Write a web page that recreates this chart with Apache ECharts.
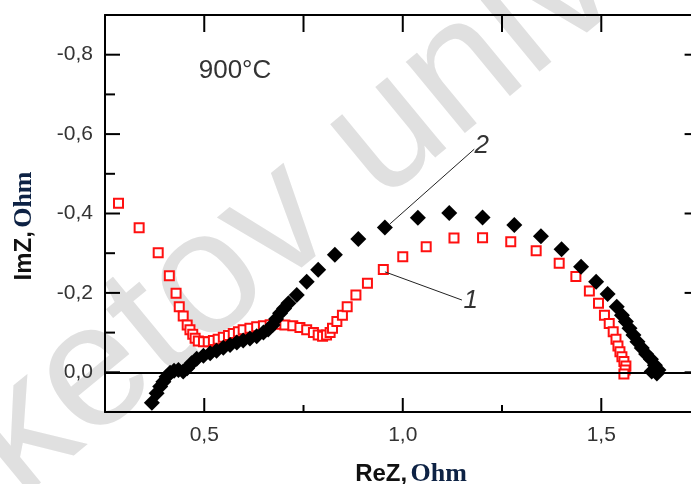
<!DOCTYPE html>
<html>
<head>
<meta charset="utf-8">
<script src="https://cdn.jsdelivr.net/npm/echarts@6/dist/echarts.min.js"></script>
<style>
  html, body { margin: 0; padding: 0; background: #fff; }
  #chart { width: 691px; height: 484px; }
</style>
</head>
<body>
<div id="chart"></div>
<script>
// Impedance spectra (Nyquist plot) at 900 °C: ReZ vs ImZ, Ohm

// Curve 1 (open red squares)
const reZ1 = [0.284, 0.336, 0.384, 0.412, 0.429, 0.437, 0.447, 0.457, 0.464, 0.471, 0.477, 0.485,
  0.498, 0.510, 0.523, 0.535, 0.548, 0.561, 0.573, 0.586, 0.598, 0.615, 0.632, 0.649, 0.666,
  0.683, 0.703, 0.723, 0.741, 0.758, 0.775, 0.787, 0.798, 0.808, 0.817, 0.823, 0.834, 0.848,
  0.860, 0.882, 0.911, 0.951, 1.000, 1.059, 1.129, 1.201, 1.272, 1.336, 1.394, 1.436, 1.470,
  1.493, 1.508, 1.520, 1.530, 1.537, 1.542, 1.547, 1.552, 1.557, 1.562, 1.560, 1.557];
const imZ1 = [-0.426, -0.364, -0.301, -0.243, -0.199, -0.165, -0.142, -0.119, -0.107, -0.096, -0.086, -0.079,
  -0.077, -0.077, -0.080, -0.083, -0.088, -0.093, -0.098, -0.102, -0.107, -0.111, -0.115, -0.117, -0.120,
  -0.121, -0.119, -0.117, -0.113, -0.107, -0.100, -0.094, -0.091, -0.094, -0.100, -0.111, -0.128, -0.144,
  -0.165, -0.195, -0.224, -0.259, -0.291, -0.316, -0.338, -0.339, -0.329, -0.306, -0.275, -0.241, -0.205,
  -0.174, -0.144, -0.123, -0.102, -0.083, -0.066, -0.052, -0.039, -0.027, -0.016, -0.006, 0.004];

// Curve 2 (filled black diamonds)
const reZ2 = [0.368, 0.380, 0.389, 0.397, 0.405, 0.414, 0.424, 0.435, 0.447, 0.457, 0.468, 0.481,
  0.498, 0.515, 0.531, 0.548, 0.565, 0.582, 0.598, 0.615, 0.632, 0.649, 0.661, 0.672, 0.681,
  0.691, 0.701, 0.712, 0.733, 0.758, 0.787, 0.829, 0.888, 0.955, 1.038, 1.117, 1.201, 1.281,
  1.348, 1.400, 1.449, 1.487, 1.516, 1.539, 1.552, 1.562, 1.571, 1.581, 1.591, 1.602, 1.613,
  1.625, 1.635, 1.644, 1.640, 1.627];
const imZ2 = [0.077, 0.053, 0.036, 0.024, 0.011, 0.001, -0.004, -0.006, -0.002, -0.010, -0.023, -0.034,
  -0.042, -0.048, -0.054, -0.062, -0.069, -0.075, -0.080, -0.085, -0.091, -0.100, -0.108, -0.119, -0.134,
  -0.149, -0.161, -0.174, -0.195, -0.228, -0.258, -0.296, -0.336, -0.365, -0.389, -0.401, -0.390, -0.371,
  -0.343, -0.310, -0.266, -0.228, -0.197, -0.165, -0.144, -0.128, -0.111, -0.094, -0.077, -0.061, -0.046,
  -0.033, -0.018, -0.006, 0.003, -0.002];

// Axis ranges and tick values
const xRange = [0.25, 1.73];
const yRange = [-0.9, 0.1];
const xMajorTicks = [0.5, 1.0, 1.5];
const xMinorTicks = [0.75, 1.25];
const xTopTicks = [0.5, 0.75, 1.0, 1.25, 1.5];
const yMajorTicks = [-0.8, -0.6, -0.4, -0.2, 0.0];
const yMinorTicks = [-0.7, -0.5, -0.3, -0.1];

// Curve labels and their leader lines (ReZ, ImZ)
const curveLabels = ['1', '2'];
const labelAt = [[1.171, -0.180], [1.199, -0.571]];
const leaderFrom = [[0.955, -0.253], [0.968, -0.374]];
const leaderTo = [[1.149, -0.182], [1.180, -0.562]];

const toPairs = (xs, ys) => xs.map((x, i) => [x, ys[i]]);
const fmt = v => v.toFixed(1).replace('.', ',');

const SANS = '"Liberation Sans", Arial, sans-serif';
const SERIF = '"Liberation Serif", "Times New Roman", serif';
const labelStyle = { fontFamily: SANS, fontSize: 21, color: '#333' };
const frameLine = { show: true, onZero: false, lineStyle: { color: '#000', width: 2 } };

// Tick marks on the frame: side code -> inward length in px
const BOTTOM_MAJOR = 0, BOTTOM_MINOR = 1, TOP = 2, LEFT_MAJOR = 3, LEFT_MINOR = 4, RIGHT = 5;
const tickLen = [14, 7, 17, 15, 10, 8];
const tickItems = [].concat(
  xMajorTicks.map(v => [v, BOTTOM_MAJOR]),
  xMinorTicks.map(v => [v, BOTTOM_MINOR]),
  xTopTicks.map(v => [v, TOP]),
  yMajorTicks.map(v => [v, LEFT_MAJOR]),
  yMinorTicks.map(v => [v, LEFT_MINOR]),
  yMajorTicks.map(v => [v, RIGHT])
);

function renderTick(params, api) {
  const v = api.value(0);
  const side = api.value(1);
  const len = tickLen[side];
  let p, x2, y2;
  if (side === BOTTOM_MAJOR || side === BOTTOM_MINOR) {
    p = api.coord([v, yRange[1]]); x2 = p[0]; y2 = p[1] - len;
  } else if (side === TOP) {
    p = api.coord([v, yRange[0]]); x2 = p[0]; y2 = p[1] + len;
  } else if (side === RIGHT) {
    p = api.coord([xRange[1], v]); x2 = p[0] - len; y2 = p[1];
  } else {
    p = api.coord([xRange[0], v]); x2 = p[0] + len; y2 = p[1];
  }
  return {
    type: 'line',
    shape: { x1: p[0], y1: p[1], x2: x2, y2: y2 },
    style: { stroke: '#000', lineWidth: 2 }
  };
}

const chart = echarts.init(document.getElementById('chart'), null, { renderer: 'canvas' });

chart.setOption({
  animation: false,
  backgroundColor: '#fff',
  grid: { left: 105, top: 15, width: 587.6, height: 397, containLabel: false, outerBoundsMode: 'none' },
  xAxis: [
    {
      type: 'value', position: 'bottom', min: xRange[0], max: xRange[1], interval: 0.25,
      axisLine: frameLine,
      axisTick: { show: false },
      axisLabel: Object.assign({ customValues: xMajorTicks, formatter: fmt, margin: 13 }, labelStyle),
      splitLine: { show: false }
    },
    {
      type: 'value', position: 'top', min: xRange[0], max: xRange[1], interval: 0.25,
      axisLine: frameLine, axisTick: { show: false },
      axisLabel: { show: false }, splitLine: { show: false }
    }
  ],
  yAxis: [
    {
      type: 'value', position: 'left', inverse: true, min: yRange[0], max: yRange[1], interval: 0.1,
      axisLine: frameLine,
      axisTick: { show: false },
      axisLabel: Object.assign({ customValues: yMajorTicks, formatter: fmt, margin: 12 }, labelStyle),
      splitLine: { show: false }
    },
    {
      type: 'value', position: 'right', inverse: true, min: yRange[0], max: yRange[1], interval: 0.1,
      axisLine: frameLine, axisTick: { show: false },
      axisLabel: { show: false }, splitLine: { show: false }
    }
  ],
  graphic: [
    {
      type: 'text', z: -10, x: 45, y: 530, rotation: 39.5 * Math.PI / 180,
      style: { text: 'ketov univ', font: '175px ' + SANS, fill: '#e0e0e0', textAlign: 'left', textVerticalAlign: 'bottom' }
    },
    {
      type: 'text', x: 235, y: 71,
      style: { text: '900°C', font: '26px ' + SANS, fill: '#333', textAlign: 'center', textVerticalAlign: 'middle' }
    },
    {
      type: 'text', x: 411, y: 474,
      style: {
        text: '{a|ReZ,} {b|Ohm}', textAlign: 'center', textVerticalAlign: 'middle',
        rich: {
          a: { font: 'bold 24px ' + SANS, fill: '#111' },
          b: { font: 'bold 26px ' + SERIF, fill: '#0d2244' }
        }
      }
    },
    {
      type: 'text', x: 24, y: 226, rotation: Math.PI / 2,
      style: {
        text: '{a|ImZ,} {b|Ohm}', textAlign: 'center', textVerticalAlign: 'middle',
        rich: {
          a: { font: 'bold 24px ' + SANS, fill: '#111' },
          b: { font: 'bold 26px ' + SERIF, fill: '#0d2244' }
        }
      }
    }
  ],
  series: [
    {
      name: 'ticks', type: 'custom', coordinateSystem: 'cartesian2d',
      data: tickItems, renderItem: renderTick, silent: true, clip: false, z: 5
    },
    {
      name: '1', type: 'scatter', data: toPairs(reZ1, imZ1),
      symbol: 'emptyRect', symbolSize: 9,
      itemStyle: { color: '#ff1010', borderColor: '#ff1010', borderWidth: 1.7, opacity: 1 },
      emphasis: { disabled: true }, z: 3,
      markLine: {
        silent: true, symbol: ['none', 'none'], animation: false,
        label: { show: false },
        lineStyle: { color: '#000', width: 2, type: 'solid' },
        data: [{ yAxis: 0 }]
      }
    },
    {
      name: '2', type: 'scatter', data: toPairs(reZ2, imZ2),
      symbol: 'diamond', symbolSize: 16,
      itemStyle: { color: '#000', opacity: 1 },
      emphasis: { disabled: true }, z: 4,
      markLine: {
        silent: true, symbol: ['none', 'none'], animation: false,
        label: { show: false },
        lineStyle: { color: '#222', width: 1, type: 'solid' },
        data: leaderFrom.map((p, i) => [{ coord: p }, { coord: leaderTo[i] }])
      },
      markPoint: {
        silent: true, animation: false,
        data: curveLabels.map((t, i) => ({
          coord: labelAt[i], symbol: 'circle', symbolSize: 1,
          itemStyle: { color: 'rgba(0,0,0,0)' },
          label: {
            show: true, position: 'inside', formatter: t,
            fontFamily: SANS, fontStyle: 'italic', fontSize: 26, color: '#333'
          }
        }))
      }
    }
  ]
});
</script>
</body>
</html>
